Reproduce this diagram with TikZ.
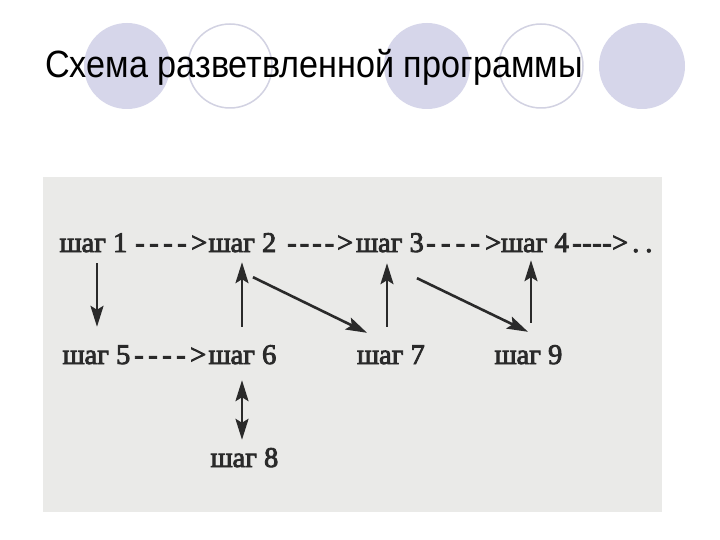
\documentclass[tikz,border=0pt]{standalone}
\usepackage{fontspec}
\setmainfont{Liberation Serif}
\newfontfamily\titlefont{Liberation Sans}
\newfontfamily\scanfont{Liberation Serif}[FakeBold=3]
\usetikzlibrary{arrows.meta}
\definecolor{lav}{HTML}{D6D6EA}
\definecolor{lavline}{HTML}{D2D2E2}
\definecolor{scanbg}{HTML}{EAEAE8}
\definecolor{ink}{HTML}{2A2A2A}
\newcommand{\dsh}[1]{\makebox[#1pt][s]{-\hfill-\hfill-\hfill-\hfill>}}
\tikzset{
  x=1pt,y=-1pt,
  fullcirc/.style={circle,fill=lav,draw=none,minimum size=86pt,inner sep=0},
  opencirc/.style={circle,fill=white,draw=lavline,line width=1.5pt,minimum size=84pt,inner sep=0},
  lbl/.style={font=\scanfont\fontsize{28.5}{31}\selectfont,text=ink,inner sep=0,text height=18pt,text depth=0pt,anchor=base},
  dlbl/.style={lbl,anchor=base west},
  tip/.tip={Stealth[length=21pt,width=13pt,inset=4pt]},
  arr/.style={draw=ink,line width=2.6pt,-tip},
  darr/.style={draw=ink,line width=2.6pt,tip-tip}
}
\begin{document}
\begin{tikzpicture}
\useasboundingbox (0,0) rectangle (720,540);
\fill[white] (0,0) rectangle (720,540);
% decorative circles
\node[fullcirc] (c1) at (127,66) {};
\node[opencirc] (c2) at (230,66) {};
\node[fullcirc] (c3) at (427,66) {};
\node[opencirc] (c4) at (541,66) {};
\node[fullcirc] (c5) at (642,66) {};
% title
\node[anchor=base west,inner sep=0,text=black] (title) at (45,78) {\titlefont\fontsize{38}{40}\selectfont\scalebox{0.9}[1]{Схема разветвленной программы}};
% scanned panel
\node[fill=scanbg,draw=none,minimum width=619pt,minimum height=335pt,inner sep=0,anchor=north west] (panel) at (43,177) {};
% row 1
\node[lbl] (s1) at (93.5,252) {шаг 1};
\node[dlbl] (d1) at (135,252) {\dsh{72}};
\node[lbl] (s2) at (242.5,252) {шаг 2};
\node[dlbl] (d2) at (287,252) {\dsh{66}};
\node[lbl] (s3) at (390,252) {шаг 3};
\node[dlbl] (d3) at (426,252) {\dsh{75}};
\node[lbl] (s4) at (535,252) {шаг 4};
\node[dlbl] (d4) at (572,252) {\dsh{56}};
\node[dlbl] (dots) at (632,252) {.\kern6pt.};
% row 2
\node[lbl] (s5) at (96.5,364) {шаг 5};
\node[dlbl] (d5) at (134,364) {\dsh{72}};
\node[lbl] (s6) at (242.5,364) {шаг 6};
\node[lbl] (s7) at (391,364) {шаг 7};
\node[lbl] (s9) at (528.5,364) {шаг 9};
\node[lbl] (s8) at (244.5,467) {шаг 8};
% arrows
\draw[arr] ([shift={(3.5,11)}]s1.south) -- ([shift={(0.5,-19)}]s5.north);
\draw[arr] ([shift={(-0.5,-19)}]s6.north) -- ([shift={(-0.5,10)}]s2.south);
\draw[arr] ([shift={(10.5,25)}]s2.south) -- ([shift={(-24,-13)}]s7.north);
\draw[arr] ([shift={(-4,-19)}]s7.north) -- ([shift={(-3,11)}]s3.south);
\draw[arr] ([shift={(27,26)}]s3.south) -- ([shift={(-0.5,-14)}]s9.north);
\draw[arr] ([shift={(2.5,-23)}]s9.north) -- ([shift={(-4,8)}]s4.south);
\draw[darr] ([shift={(-0.5,16)}]s6.south) -- ([shift={(-2.5,-9)}]s8.north);
\end{tikzpicture}
\end{document}
